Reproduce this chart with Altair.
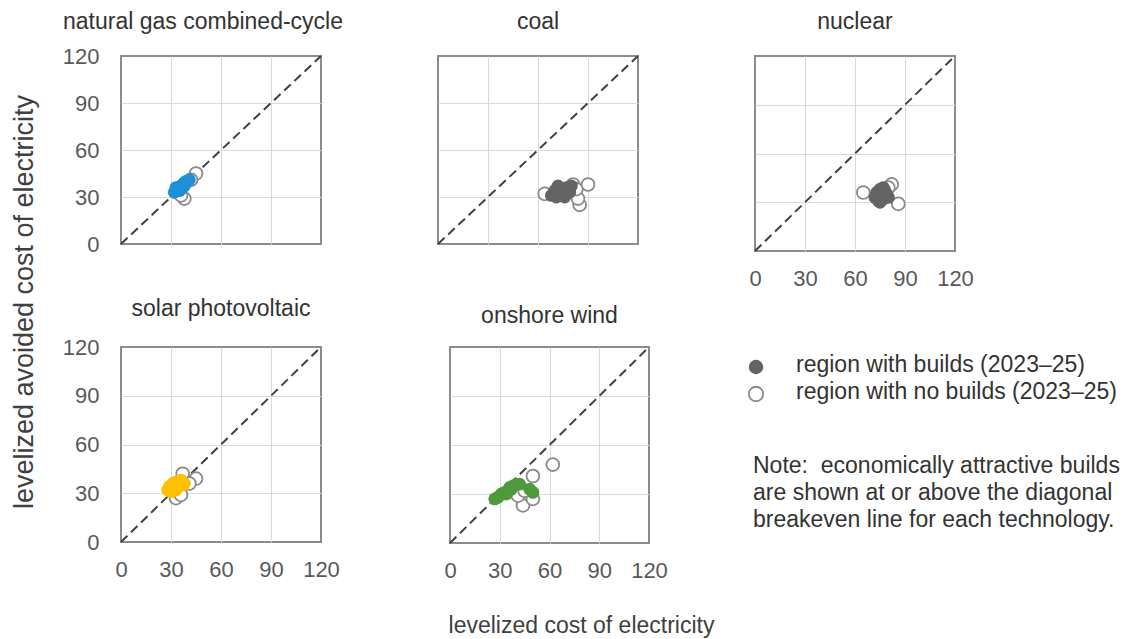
import altair as alt
import pandas as pd

FONT = "Liberation Sans"
TICKS = [0, 30, 60, 90, 120]

# ---- data (x = levelized cost, y = levelized avoided cost) ----
gas_built_x = [32, 33, 34, 35, 36, 37, 38, 39, 40, 41, 34, 36, 38, 35, 33]
gas_built_y = [33, 34, 35, 36, 37, 38, 39, 40, 40, 41, 36, 35, 37, 34, 36]
gas_none_x = [45, 38, 36, 42]
gas_none_y = [45, 29, 31, 41]

coal_built_x = [68, 70, 72, 74, 75, 77, 78, 80, 72, 76, 71, 79]
coal_built_y = [31, 34, 33, 35, 32, 36, 34, 37, 37, 30, 30, 33]
coal_none_x = [64, 90, 85, 84, 81, 83]
coal_none_y = [32, 38, 25, 29, 38, 35]

nuclear_built_x = [72, 73, 74, 75, 76, 77, 78, 79, 80, 75, 77, 73]
nuclear_built_y = [33, 36, 31, 38, 34, 32, 37, 35, 33, 30, 39, 34]
nuclear_none_x = [65, 86, 82, 80]
nuclear_none_y = [36, 29, 41, 39]

solar_built_x = [28, 29, 30, 31, 32, 33, 34, 35, 36, 37, 38, 30, 33]
solar_built_y = [32, 34, 33, 36, 35, 37, 34, 36, 38, 35, 36, 31, 32]
solar_none_x = [37, 45, 33, 36, 41]
solar_none_y = [42, 39, 27, 29, 36]

wind_built_x = [27, 29, 31, 33, 35, 36, 38, 40, 42, 37, 34, 50, 48]
wind_built_y = [27, 28, 30, 31, 32, 34, 35, 36, 36, 33, 30, 31, 33]
wind_none_x = [62, 50, 44, 50, 41, 45]
wind_none_y = [48, 41, 23, 27, 29, 32]

DIAG_X = [0, 120]
DIAG_Y = [0, 120]

PANEL_TITLES = {
    "gas": "natural gas combined-cycle",
    "coal": "coal",
    "nuclear": "nuclear",
    "solar": "solar photovoltaic",
    "wind": "onshore wind",
}
BUILD_COLORS = {
    "gas": "#1f8fd6",
    "coal": "#646464",
    "nuclear": "#646464",
    "solar": "#ffc000",
    "wind": "#4e9a3a",
}
LEGEND_LABELS = ["region with builds (2023\u201325)", "region with no builds (2023\u201325)"]
NOTE_LINES = [
    "Note:\u00a0 economically attractive builds",
    "are shown at or above the diagonal",
    "breakeven line for each technology.",
]
Y_TITLE = "levelized avoided cost of electricity"
X_TITLE = "levelized cost of electricity"

SERIES = {
    "gas": (gas_built_x, gas_built_y, gas_none_x, gas_none_y),
    "coal": (coal_built_x, coal_built_y, coal_none_x, coal_none_y),
    "nuclear": (nuclear_built_x, nuclear_built_y, nuclear_none_x, nuclear_none_y),
    "solar": (solar_built_x, solar_built_y, solar_none_x, solar_none_y),
    "wind": (wind_built_x, wind_built_y, wind_none_x, wind_none_y),
}

diag_df = pd.DataFrame({"x": DIAG_X, "y": DIAG_Y})

GRID_OP = {"condition": {"test": "datum.value <= 0 || datum.value >= 120", "value": 0}, "value": 1}
LABEL_COLOR = "#595959"
TEXT_COLOR = "#333333"
PT_SIZE = 165


def panel(tech, w, h, show_x, show_y, title_offset=24, title_dx=0, xtitle=None):
    bx, by, nx, ny = SERIES[tech]
    built = pd.DataFrame({"x": bx, "y": by})
    none = pd.DataFrame({"x": nx, "y": ny})
    sc = alt.Scale(domain=[0, 120], nice=False)
    common = dict(values=TICKS, grid=True, gridColor="#d9d9d9", gridWidth=1,
                  gridOpacity=GRID_OP, ticks=False, domain=False,
                  labelFont=FONT, labelFontSize=22, labelColor=LABEL_COLOR,
                  labelFlush=False, labelOverlap=False)
    if xtitle:
        xa = alt.Axis(labels=show_x, labelPadding=17, title=xtitle,
                      titleX=131, titleY=82, titleFont=FONT, titleFontSize=23,
                      titleFontWeight="normal", titleColor="#404040",
                      titleBaseline="middle", titleAlign="center", **common)
    else:
        xa = alt.Axis(labels=show_x, labelPadding=17, title=None, **common)
    ya = alt.Axis(labels=show_y, labelPadding=22, title=None, **common)
    enc = dict(x=alt.X("x:Q", scale=sc, axis=xa), y=alt.Y("y:Q", scale=sc, axis=ya))
    diag = alt.Chart(diag_df).mark_line(
        strokeDash=[9, 5], color="#404040", strokeWidth=2).encode(**enc)
    opn = alt.Chart(none).mark_point(
        shape="circle", filled=True, fill="white", stroke="#8a8a8a",
        strokeWidth=1.8, size=PT_SIZE, opacity=1).encode(**enc)
    fil = alt.Chart(built).mark_circle(
        size=PT_SIZE, color=BUILD_COLORS[tech], opacity=1).encode(**enc)
    return alt.layer(diag, opn, fil).properties(
        width=w, height=h,
        title=alt.TitleParams(PANEL_TITLES[tech], font=FONT, fontSize=23,
                              fontWeight="normal", color=TEXT_COLOR,
                              offset=title_offset, dx=title_dx, anchor="middle"),
        view=alt.ViewBackground(stroke="#8c8c8c", strokeWidth=2),
    )


gas = panel("gas", 200, 188, False, True, title_offset=11, title_dx=-18)
coal = panel("coal", 200, 188, False, False, title_offset=18)
nuclear = panel("nuclear", 200, 195, True, False, title_offset=18)
solar = panel("solar", 200, 195, True, True, title_offset=15)
wind = panel("wind", 199, 196, True, False, title_offset=15, xtitle=X_TITLE)


def one(text):
    return pd.DataFrame({"t": [text]})


leg_filled = alt.Chart(one(LEGEND_LABELS[0])).mark_circle(
    size=210, color="#646464", opacity=1).encode(x=alt.value(-22), y=alt.value(20))
leg_open = alt.Chart(one(LEGEND_LABELS[1])).mark_point(
    shape="circle", filled=True, fill="white", stroke="#8a8a8a", strokeWidth=1.8,
    size=210, opacity=1).encode(x=alt.value(-22), y=alt.value(47))
text_style = dict(font=FONT, fontSize=23, color=TEXT_COLOR, align="left", baseline="middle")
leg_t1 = alt.Chart(one(LEGEND_LABELS[0])).mark_text(**text_style).encode(
    text="t:N", x=alt.value(18), y=alt.value(18))
leg_t2 = alt.Chart(one(LEGEND_LABELS[1])).mark_text(**text_style).encode(
    text="t:N", x=alt.value(18), y=alt.value(45))
note_layers = [
    alt.Chart(one(line)).mark_text(**text_style).encode(
        text="t:N", x=alt.value(-25), y=alt.value(119 + 27 * i))
    for i, line in enumerate(NOTE_LINES)
]
legend_panel = alt.layer(leg_filled, leg_open, leg_t1, leg_t2, *note_layers).properties(
    width=330, height=195)

ytitle = alt.Chart(one(Y_TITLE)).mark_text(
    angle=270, font=FONT, fontSize=27, color="#404040", align="center", baseline="middle"
).encode(text="t:N", x=alt.value(12), y=alt.value(246)).properties(width=30, height=560)

row1 = alt.hconcat(gas, coal, nuclear, spacing=117, bounds="flush")
row2 = alt.hconcat(solar, wind, legend_panel, spacing=129, bounds="flush")
main = alt.vconcat(row1, row2, spacing=7)

chart = alt.hconcat(ytitle, main, spacing=18).properties(
    padding={"left": 2, "top": 2, "right": 0, "bottom": 0}, background="white"
).configure_view(stroke=None)

chart.save("out.html", embed_options={"renderer": "svg", "actions": False})
